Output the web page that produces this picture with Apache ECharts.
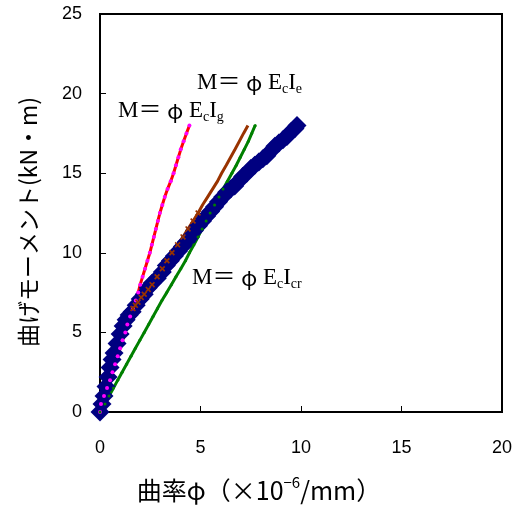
<!DOCTYPE html>
<html>
<head>
<meta charset="utf-8">
<script src="https://cdn.jsdelivr.net/npm/echarts@6/dist/echarts.min.js"></script>
<style>
html,body{margin:0;padding:0;background:#fff;}
#c{width:522px;height:506px;}
</style>
</head>
<body>
<div id="c"></div>
<script>
// Experimental: blue diamonds
var blueCurv = [0,0.1,0.2,0.3,0.4,0.5,0.6,0.7,0.85,1.0,1.15,1.3,1.45,1.6,1.8,2.0,2.2,2.4,2.6,2.85,3.1,3.3,3.5,3.7,3.9,4.1,4.3,4.5,4.7,4.9,5.1,5.3,5.5,5.7,5.9,6.1,6.3,6.5,6.7,6.9,7.1,7.3,7.5,7.7,7.9,8.1,8.3,8.5,8.7,8.9,9.1,9.3,9.5,9.7,9.8];
var blueMom  = [0,0.5,1.0,1.6,2.2,2.8,3.3,3.7,4.3,4.9,5.4,5.8,6.1,6.3,6.7,7.1,7.4,7.8,8.1,8.4,8.8,9.2,9.5,9.8,10.1,10.4,10.7,11.0,11.4,11.7,12.0,12.3,12.6,12.9,13.2,13.5,13.8,14.0,14.2,14.5,14.8,15.0,15.3,15.5,15.7,15.9,16.1,16.4,16.7,16.9,17.1,17.3,17.6,17.8,18.0];
// M = phi Ec Ig (red line, magenta dots)
var redCurv = [0,0.05,0.2,0.35,0.5,0.62,0.75,0.88,1.0,1.12,1.26,1.36,1.5,1.64,1.78,1.9,2.0,2.12,2.24,2.36,2.48,2.58,2.68,2.78,2.88,2.98,3.1,3.22,3.36,3.52,3.66,3.78,3.9,4.02,4.16,4.3,4.45];
var redMom  = [0,0.5,1,1.5,2,2.5,3,3.5,4,4.5,5,5.5,6,6.5,7,7.5,8,8.5,9,9.5,10,10.5,11,11.5,12,12.5,13,13.5,14,14.5,15,15.5,16,16.5,17,17.5,18];
// M = phi Ec Ie (brown line, x markers on the part that follows the test data)
var brownCurv = [1.64,1.76,1.89,2.05,2.2,2.4,2.59,2.84,3.1,3.33,3.58,3.86,4.13,4.38,4.63,4.88,5.1,5.35,5.6,5.85,6.05,6.28,6.5,6.72,6.93,7.14,7.36];
var brownMom  = [6.5,6.7,6.9,7.2,7.4,7.7,8.0,8.5,9.0,9.5,10.0,10.5,11.0,11.5,12.0,12.5,13.0,13.5,14.0,14.5,15.0,15.5,16.0,16.5,17.0,17.5,18.0];
var brownMarkedCount = 16;
// M = phi Ec Icr (green line, green dots)
var greenCurv = [0,0.25,0.45,0.67,0.88,1.1,1.32,1.54,1.76,1.98,2.2,2.42,2.64,2.86,3.08,3.32,3.55,3.78,4.02,4.25,4.45,4.67,4.88,5.08,5.28,5.48,5.7,5.92,6.12,6.34,6.56,6.78,6.98,7.18,7.38,7.55,7.72];
var greenMom  = [0,0.5,1,1.5,2,2.5,3,3.5,4,4.5,5,5.5,6,6.5,7,7.5,8,8.5,9,9.5,10,10.5,11,11.5,12,12.5,13,13.5,14,14.5,15,15.5,16,16.5,17,17.5,18];

var xTicks = [0,5,10,15,20];
var yTicks = [0,5,10,15,20,25];

function pairs(a,b){ var r=[]; for(var i=0;i<a.length;i++) r.push([a[i],b[i]]); return r; }

var blueData = pairs(blueCurv, blueMom);
var redData = pairs(redCurv, redMom);
var brownData = pairs(brownCurv, brownMom);
var greenData = pairs(greenCurv, greenMom);

var xPath = 'path://M0,2 L2,0 L5,3 L8,0 L10,2 L7,5 L10,8 L8,10 L5,7 L2,10 L0,8 L3,5 Z';

var serif = 'Liberation Serif, "Noto Sans CJK JP", serif';
var labRich = {
  m: {fontFamily: serif, fontSize: 23, lineHeight: 26, color: '#000'},
  p: {fontFamily: '"Noto Sans CJK JP", sans-serif', fontSize: 21, lineHeight: 26, color: '#000'},
  s: {fontFamily: serif, fontSize: 14, lineHeight: 14, verticalAlign: 'bottom', color: '#000'}
};

var chart = echarts.init(document.getElementById('c'), null, {renderer: 'canvas'});
chart.setOption({
  animation: false,
  backgroundColor: '#fff',
  grid: {left: 100, right: 20, top: 14, bottom: 94, show: true, borderColor: '#000', borderWidth: 2, backgroundColor: 'transparent'},
  xAxis: {
    type: 'value', min: xTicks[0], max: xTicks[xTicks.length-1], interval: 5,
    axisLine: {show: true, onZero: false, lineStyle: {color: '#000', width: 2}},
    axisTick: {show: true, inside: true, length: 6, lineStyle: {color: '#000', width: 1}},
    axisLabel: {color: '#000', fontSize: 18, fontFamily: 'Liberation Sans, Arial, sans-serif', margin: 27},
    splitLine: {show: false}
  },
  yAxis: {
    type: 'value', min: yTicks[0], max: yTicks[yTicks.length-1], interval: 5,
    axisLine: {show: true, onZero: false, lineStyle: {color: '#000', width: 2}},
    axisTick: {show: true, inside: true, length: 6, lineStyle: {color: '#000', width: 1}},
    axisLabel: {color: '#000', fontSize: 18, fontFamily: 'Liberation Sans, Arial, sans-serif', margin: 18},
    splitLine: {show: false}
  },
  graphic: [
    {type: 'text', x: 197, y: 70, z: 100, style: {text: '{m|M＝ }{p|φ}{m| E}{s|c}{m|I}{s|e}', rich: labRich}},
    {type: 'text', x: 118, y: 98, z: 100, style: {text: '{m|M＝ }{p|φ}{m| E}{s|c}{m|I}{s|g}', rich: labRich}},
    {type: 'text', x: 192, y: 265, z: 100, style: {text: '{m|M＝ }{p|φ}{m| E}{s|c}{m|I}{s|cr}', rich: labRich}},
    {type: 'text', x: 259, y: 490, z: 100, style: {
      text: '{a|曲率φ（×10}{b|−6}{a|/mm）}', align: 'center', verticalAlign: 'middle',
      rich: {
        a: {fontFamily: '"Noto Sans CJK JP", sans-serif', fontSize: 25, lineHeight: 30, color: '#000'},
        b: {fontFamily: '"Noto Sans CJK JP", sans-serif', fontSize: 15, lineHeight: 15, verticalAlign: 'top', color: '#000'}
      }
    }},
    {type: 'text', x: 28, y: 222, rotation: Math.PI/2, z: 100, style: {
      text: '曲げモーメント(kN・m)', align: 'center', verticalAlign: 'middle',
      fontFamily: '"Noto Sans CJK JP", sans-serif', fontSize: 23, fill: '#000'
    }}
  ],
  series: [
    {type: 'line', data: greenData, showSymbol: false, symbol: 'none', lineStyle: {color: '#008000', width: 3}, z: 2},
    {type: 'line', data: brownData, showSymbol: false, symbol: 'none', lineStyle: {color: '#993300', width: 3}, z: 2},
    {type: 'line', data: redData, showSymbol: false, symbol: 'none', lineStyle: {color: '#FF0000', width: 3}, z: 2},
    {type: 'scatter', data: blueData, symbol: 'diamond', symbolSize: 19, itemStyle: {color: '#000080', opacity: 1}, z: 3},
    {type: 'scatter', data: redData, symbol: 'circle', symbolSize: 4, itemStyle: {color: '#FF00FF', opacity: 1}, z: 4},
    {type: 'scatter', data: brownData.slice(0, brownMarkedCount), symbol: xPath, symbolSize: 6, itemStyle: {color: '#993300', opacity: 1}, z: 4},
    {type: 'scatter', data: greenData, symbol: 'circle', symbolSize: 3, itemStyle: {color: '#008000', opacity: 1}, z: 4}
  ]
});
</script>
</body>
</html>
